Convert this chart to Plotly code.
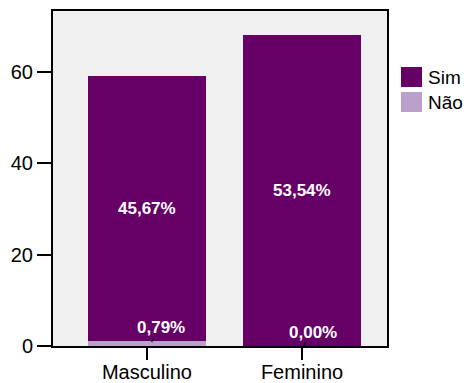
import plotly.graph_objects as go

# data
categories = ["Masculino", "Feminino"]
nao = [1, 0]
sim = [58, 68]
nao_pct = ["0,79%", "0,00%"]
sim_pct = ["45,67%", "53,54%"]
series_names = ["Sim", "Não"]

COL_SIM = "#660066"
COL_NAO = "#bba0cc"

# the page has an 8px body margin, so the figure is 8px smaller
W, H = 464, 375
ML, MR, MT, MB = 45, 85, 3, 37
PW, PH = W - ML - MR, H - MT - MB


def px(x):  # figure pixel -> paper x
    return (x - ML) / PW


def py(y):  # figure pixel -> paper y
    return (H - MB - y) / PH


fig = go.Figure()
fig.add_trace(go.Bar(x=categories, y=nao, name="Não", marker_color=COL_NAO,
                     marker_line_width=0, width=0.76, showlegend=False))
fig.add_trace(go.Bar(x=categories, y=sim, name="Sim", marker_color=COL_SIM,
                     marker_line_width=0, width=0.76, showlegend=False))

# percentage labels
for i, c in enumerate(categories):
    fig.add_annotation(x=c, y=nao[i] + sim[i] / 2, text="<b>%s</b>" % sim_pct[i],
                       showarrow=False, font=dict(color="white", size=17))
    fig.add_annotation(x=i + 0.01 + 0.02 * (1 - i), y=nao[i] * 0.9, xref="x", yref="y",
                       text="<b>%s</b>" % nao_pct[i], showarrow=True,
                       arrowhead=0, arrowwidth=1.5, arrowcolor="black",
                       ax=9, ay=-14, font=dict(color="white", size=17))

# legend drawn by hand (SPSS style: large swatches close to text)
for k, (name, col) in enumerate(zip(series_names, [COL_SIM, COL_NAO])):
    y0 = 59 + k * 25
    fig.add_shape(type="rect", xref="paper", yref="paper",
                  x0=px(393), x1=px(414), y0=py(y0), y1=py(y0 + 20),
                  fillcolor=col, line_width=0)
    fig.add_annotation(xref="paper", yref="paper", x=px(418), y=py(y0 + 10),
                       xanchor="left", yanchor="middle", text=name, showarrow=False,
                       font=dict(size=19))

fig.update_layout(
    width=W, height=H,
    margin=dict(l=ML, r=MR, t=MT, b=MB, autoexpand=False),
    barmode="stack",
    plot_bgcolor="#f0f0f0",
    paper_bgcolor="white",
    font=dict(family="Liberation Sans, Arial, sans-serif", size=20, color="black"),
    showlegend=False,
)
fig.update_xaxes(range=[-0.606, 1.548], showline=True, linecolor="black", linewidth=2,
                 mirror=True, ticks="outside", ticklen=12, tickwidth=2,
                 tickcolor="black", showgrid=False, automargin=False,
                 ticklabelstandoff=-5)
fig.update_yaxes(range=[0, 73.3], tickvals=[0, 20, 40, 60], showline=True,
                 linecolor="black", linewidth=2, mirror=True, ticks="outside",
                 ticklen=14, tickwidth=2, tickcolor="black", showgrid=False,
                 zeroline=False, automargin=False)

fig.write_html("out.html")
